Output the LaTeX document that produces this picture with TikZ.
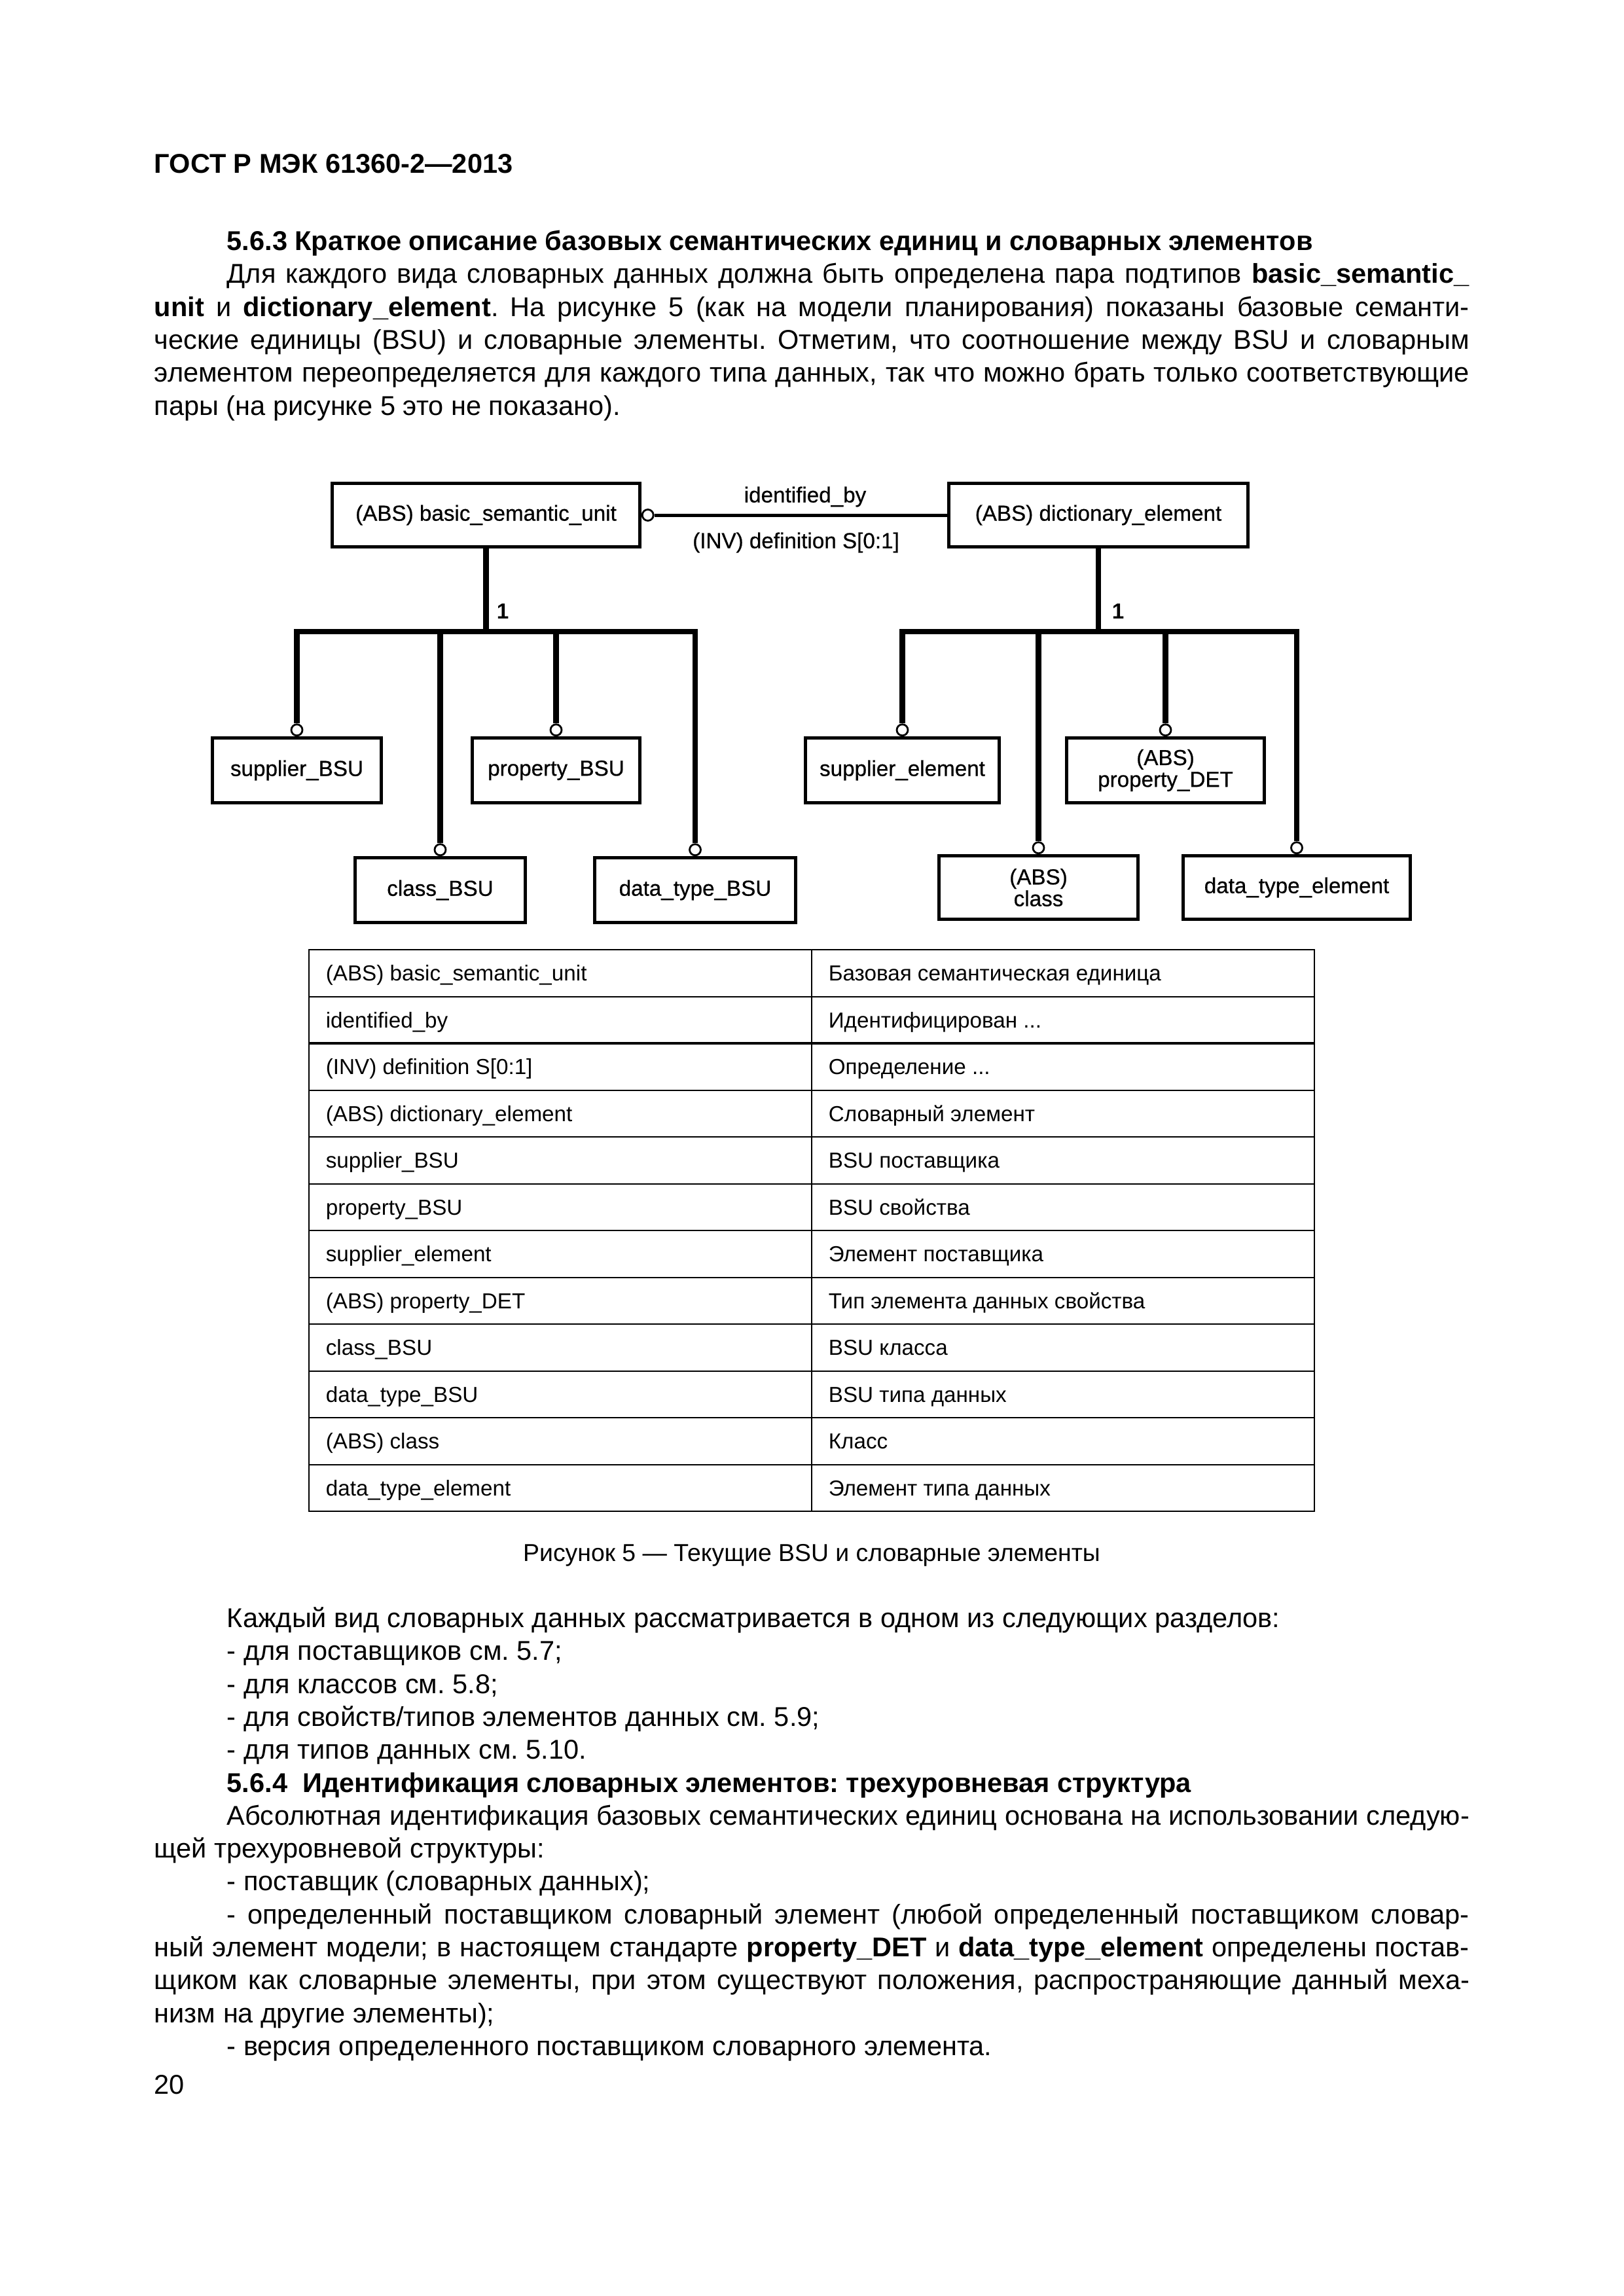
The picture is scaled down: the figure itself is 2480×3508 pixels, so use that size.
\documentclass[tikz,border=0pt]{standalone}
\usepackage{fontspec}
\setmainfont{Liberation Sans}
\newfontfamily\diagfont[FakeBold=0.6]{Liberation Sans}
\usetikzlibrary{positioning}
\frenchspacing
\newlength\px
\setlength\px{0.24088pt}
\tikzset{
  txt/.style={anchor=base west, inner sep=0pt, font=\fontsize{10}{12}\selectfont},
  head/.style={txt, font=\bfseries\fontsize{10}{12}\selectfont},
  cell/.style={anchor=base west, inner sep=0pt, font=\fontsize{8}{9}\selectfont}
}

\begin{document}
\begin{tikzpicture}[x=\px, y=-\px,
    box/.style = {draw, line width=4.6\px, inner sep=0pt, align=center,
      font=\diagfont\fontsize{8}{8}\selectfont},
    ring/.style = {draw, circle, fill=white, line width=2.8\px, inner sep=0pt, minimum size=17\px},
    lbl/.style = {inner sep=0pt, font=\diagfont\fontsize{8}{8}\selectfont},
    bar/.style = {line width=8.5\px, line cap=rect},
    drop/.style = {line width=8.5\px},
    rel/.style = {line width=5\px},
    grid/.style = {line width=2\px}]

      \path[use as bounding box, fill=white] (0,0) rectangle (2480,3508);

      \node[head] at (235,265) (hdr) {ГОСТ Р МЭК 61360-2—2013};

      \node[head] at (346,383) (h1) {5.6.3 Краткое описание базовых семантических единиц и словарных элементов};
      \node[txt] at (346,433) (p1) {\makebox[1898\px][s]{Для каждого вида словарных данных должна быть определена пара подтипов \textbf{basic\_semantic\_}}};
      \node[txt] at (235,484) (p2) {\makebox[2009\px][s]{\textbf{unit} и \textbf{dictionary\_element}. На рисунке 5 (как на модели планирования) показаны базовые семанти-}};
      \node[txt] at (235,534) (p3) {\makebox[2009\px][s]{ческие единицы (BSU) и словарные элементы. Отметим, что соотношение между BSU и словарным}};
      \node[txt] at (235,584) (p4) {\makebox[2009\px][s]{элементом переопределяется для каждого типа данных, так что можно брать только соответствующие}};
      \node[txt] at (235,635) (p5) {пары (на рисунке 5 это не показано).};

      \node[box, minimum width=470\px, minimum height=97\px] at (742.5,787) (bsu) {(ABS) basic\_semantic\_unit};
      \node[box, minimum width=457\px, minimum height=97\px] at (1678,787) (de) {(ABS) dictionary\_element};

      \node[box, minimum width=258\px, minimum height=99\px] at (453.5,1177) (sbsu) {supplier\_BSU};
      \node[box, minimum width=256\px, minimum height=99\px] at (849.5,1177) (pbsu) {property\_BSU};
      \node[box, minimum width=260\px, minimum height=99\px] at (672.5,1360) (cbsu) {class\_BSU};
      \node[box, minimum width=307\px, minimum height=99\px] at (1062,1360) (dtbsu) {data\_type\_BSU};

      \node[box, minimum width=296\px, minimum height=99\px] at (1378.5,1177) (se) {supplier\_element};
      \node[box, minimum width=302\px, minimum height=99\px] at (1780.5,1177) (pdet) {(ABS)\\property\_DET};
      \node[box, minimum width=304\px, minimum height=97\px] at (1586.5,1356) (cls) {(ABS)\\class};
      \node[box, minimum width=347\px, minimum height=97\px] at (1981,1356) (dte) {data\_type\_element};

      \node[ring, right=0pt of bsu] (o-rel) {};
      \node[ring, above=0pt of sbsu] (o-sbsu) {};
      \node[ring, above=0pt of pbsu] (o-pbsu) {};
      \node[ring, above=0pt of cbsu] (o-cbsu) {};
      \node[ring, above=0pt of dtbsu] (o-dtbsu) {};
      \node[ring, above=0pt of se] (o-se) {};
      \node[ring, above=0pt of pdet] (o-pdet) {};
      \node[ring, above=0pt of cls] (o-cls) {};
      \node[ring, above=0pt of dte] (o-dte) {};

      \coordinate (lb) at (0,965);

      \node[lbl] at (1230,759) (idby) {identified\_by};
      \node[lbl] at (1216,829) (inv) {(INV) definition S[0:1]};
      \node[inner sep=0pt, font=\bfseries\fontsize{8}{8}\selectfont] at (768,934) (one-l) {1};
      \node[inner sep=0pt, font=\bfseries\fontsize{8}{8}\selectfont] at (1708,934) (one-r) {1};

      \path[rel]
      (o-rel) edge (de)
      ;

      \draw[bar] (sbsu |- lb) -- (dtbsu |- lb);
      \draw[bar] (se |- lb) -- (dte |- lb);

      \path[drop]
      (bsu) edge (bsu |- lb)
      (de) edge (de |- lb)

      (sbsu |- lb) edge (o-sbsu)
      (pbsu |- lb) edge (o-pbsu)
      (cbsu |- lb) edge (o-cbsu)
      (dtbsu |- lb) edge (o-dtbsu)

      (se |- lb) edge (o-se)
      (pdet |- lb) edge (o-pdet)
      (cls |- lb) edge (o-cls)
      (dte |- lb) edge (o-dte)
      ;

      \draw[grid] (472,1451) rectangle (2008,2309);
      \draw[grid] (1240,1451) -- (1240,2309);
      \foreach \k in {1,3,4,5,6,7,8,9,10,11}
        \draw[grid] (472,{1451+71.5*\k}) -- (2008,{1451+71.5*\k});
      \draw[grid, line width=3.4\px] (472,1594) -- (2008,1594);

      \foreach \a/\b [count=\i from 0] in {
          {(ABS) basic\_semantic\_unit}/{Базовая семантическая единица},
          {identified\_by}/{Идентифицирован ...},
          {(INV) definition S[0:1]}/{Определение ...},
          {(ABS) dictionary\_element}/{Словарный элемент},
          {supplier\_BSU}/{BSU поставщика},
          {property\_BSU}/{BSU свойства},
          {supplier\_element}/{Элемент поставщика},
          {(ABS) property\_DET}/{Тип элемента данных свойства},
          {class\_BSU}/{BSU класса},
          {data\_type\_BSU}/{BSU типа данных},
          {(ABS) class}/{Класс},
          {data\_type\_element}/{Элемент типа данных}}
        {
        \node[cell] at (497,{1498.5+71.5*\i}) (ta\i) {\a};
        \node[cell] at (1265,{1498.5+71.5*\i}) (tb\i) {\b};
        }

      \node[anchor=base, inner sep=0pt, font=\fontsize{9}{11}\selectfont] at (1240,2385) (cap) {Рисунок 5 — Текущие BSU и словарные элементы};

      \node[txt] at (346,2486) (q1) {Каждый вид словарных данных рассматривается в одном из следующих разделов:};
      \node[txt] at (346,2536) (q2) {- для поставщиков см. 5.7;};
      \node[txt] at (346,2587) (q3) {- для классов см. 5.8;};
      \node[txt] at (346,2637) (q4) {- для свойств/типов элементов данных см. 5.9;};
      \node[txt] at (346,2687) (q5) {- для типов данных см. 5.10.};
      \node[head] at (346,2738) (h2) {5.6.4~ Идентификация словарных элементов: трехуровневая структура};
      \node[txt] at (346,2788) (q6) {\makebox[1898\px][s]{Абсолютная идентификация базовых семантических единиц основана на использовании следую-}};
      \node[txt] at (235,2838) (q7) {щей трехуровневой структуры:};
      \node[txt] at (346,2888) (q8) {- поставщик (словарных данных);};
      \node[txt] at (346,2939) (q9) {\makebox[1898\px][s]{- определенный поставщиком словарный элемент (любой определенный поставщиком словар-}};
      \node[txt] at (235,2989) (q10) {\makebox[2009\px][s]{ный элемент модели; в настоящем стандарте \textbf{property\_DET} и \textbf{data\_type\_element} определены постав-}};
      \node[txt] at (235,3039) (q11) {\makebox[2009\px][s]{щиком как словарные элементы, при этом существуют положения, распространяющие данный меха-}};
      \node[txt] at (235,3090) (q12) {низм на другие элементы);};
      \node[txt] at (346,3140) (q13) {- версия определенного поставщиком словарного элемента.};

      \node[txt] at (235,3199) (pg) {20};

    \end{tikzpicture}
\end{document}
